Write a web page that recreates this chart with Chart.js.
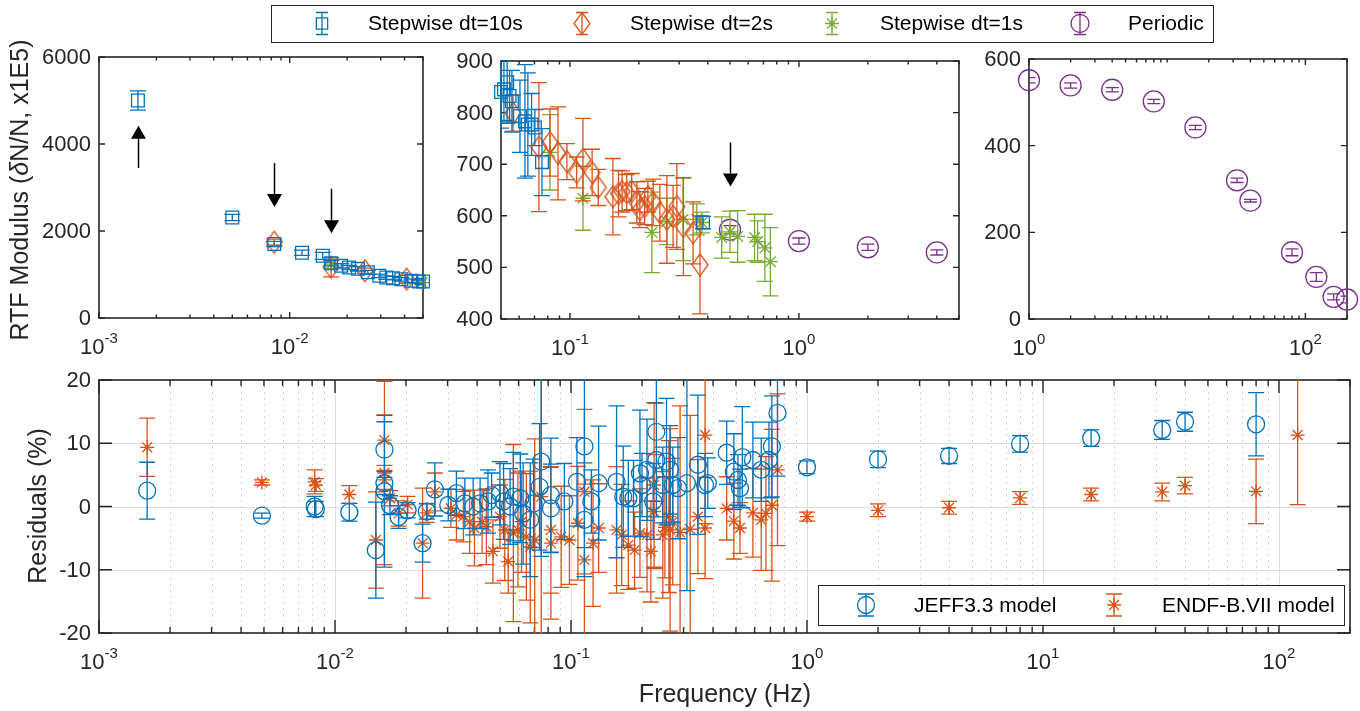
<!DOCTYPE html>
<html>
<head>
<meta charset="utf-8">
<script src="https://cdn.jsdelivr.net/npm/chart.js@4.4.0/dist/chart.umd.min.js"></script>
<style>
  html, body { margin: 0; padding: 0; background: #fff; }
  #wrap { position: relative; width: 1360px; height: 711px; overflow: hidden; }
  #wrap canvas { position: absolute; left: 0; top: 0; }
</style>
</head>
<body>
<div id="wrap">
  <canvas id="cTL" width="1360" height="711"></canvas>
  <canvas id="cMid" width="1360" height="711"></canvas>
  <canvas id="cTR" width="1360" height="711"></canvas>
  <canvas id="cBot" width="1360" height="711"></canvas>
</div>
<script>
// --- RTF modulus, stepwise dt=10s
const sw10Freq = [0.0016, 0.005, 0.0083, 0.0116, 0.0149, 0.0165, 0.0186, 0.0205, 0.0228, 0.0257, 0.0295, 0.0321, 0.0348, 0.0385, 0.0435, 0.0475, 0.050, 0.0515, 0.0532, 0.0545, 0.0558, 0.0605, 0.0636, 0.0655, 0.068, 0.0703, 0.0755, 0.381];
const sw10Val = [5000, 2310, 1700, 1500, 1430, 1260, 1200, 1160, 1130, 1050, 970, 930, 915, 890, 855, 838, 840, 845, 859, 832, 822, 793, 783, 777, 777, 771, 704, 587];
const sw10Err = [220, 70, 60, 60, 80, 60, 50, 50, 50, 45, 40, 40, 40, 40, 40, 40, 70, 60, 80, 50, 60, 70, 110, 100, 60, 35, 65, 12];

// --- stepwise dt=2s
const sw2Freq = [0.0083, 0.0165, 0.0248, 0.041, 0.0564, 0.0732, 0.0818, 0.0887, 0.097, 0.107, 0.114, 0.125, 0.133, 0.154, 0.163, 0.169, 0.177, 0.186, 0.196, 0.202, 0.212, 0.219, 0.231, 0.247, 0.265, 0.282, 0.293, 0.313, 0.345, 0.37];
const sw2Val = [1742, 1166, 1085, 893, 799, 733, 742, 721, 705, 684, 709, 684, 655, 637, 643, 647, 645, 647, 626, 612, 618, 637, 626, 606, 593, 599, 618, 579, 567, 505];
const sw2Err = [70, 220, 60, 90, 35, 125, 65, 90, 35, 30, 80, 45, 35, 74, 45, 40, 35, 35, 40, 35, 35, 30, 45, 55, 85, 60, 83, 95, 60, 95];

// --- stepwise dt=1s
const sw1Freq = [0.0165, 0.0495, 0.0818, 0.114, 0.228, 0.265, 0.312, 0.358, 0.377, 0.46, 0.50, 0.54, 0.64, 0.66, 0.71, 0.75];
const sw1Val = [1239, 815, 723, 634, 568, 589, 593, 593, 587, 558, 569, 560, 558, 550, 538, 511];
const sw1Err = [100, 40, 73, 62, 78, 45, 80, 30, 20, 40, 40, 50, 45, 40, 65, 66];

// --- periodic
const perFreq = [0.5, 1, 2, 4, 8, 16, 32, 40, 80, 120, 160, 200];
const perVal = [573, 551, 539, 529, 502, 442, 320, 273, 154, 97, 51, 45];
const perErr = [8, 6, 6, 5, 5, 5, 5, 3, 8, 10, 7, 8];

// --- residuals, JEFF3.3 model
const jeffFreq = [0.0016, 0.0049, 0.0082, 0.0083, 0.0115, 0.0149, 0.0162, 0.0162, 0.0162, 0.0171, 0.0186, 0.0203, 0.0235, 0.0245, 0.0265, 0.0302, 0.0327, 0.0355, 0.0385, 0.0412, 0.0445, 0.0461, 0.050, 0.0518, 0.0552, 0.057, 0.061, 0.0627, 0.0672, 0.0694, 0.0736, 0.0748, 0.0822, 0.0822, 0.0937, 0.106, 0.114, 0.114, 0.122, 0.131, 0.156, 0.1665, 0.175, 0.184, 0.196, 0.2, 0.21, 0.223, 0.23, 0.23, 0.245, 0.254, 0.263, 0.27, 0.284, 0.31, 0.345, 0.37, 0.38, 0.457, 0.49, 0.51, 0.52, 0.532, 0.59, 0.64, 0.69, 0.71, 0.75, 1, 2, 4, 8, 16, 32, 40, 80];
const jeffRes = [2.5, -1.45, 0.0, -0.4, -0.9, -6.9, 9.0, 3.7, 2.4, 0.2, -1.65, -0.6, -5.8, -0.8, 2.7, 0.24, 2.1, 0.5, 0.0, 0.5, 0.8, 1.8, 2.1, 0.8, 0.0, 1.55, 1.3, -1.1, -2.1, 0.5, 3.1, 7.1, 1.8, -0.3, 0.8, 3.9, 9.5, -2.1, 0.8, 3.7, 3.9, 1.55, 1.3, 1.3, 5.25, 3.4, 5.8, 0.8, 11.8, 7.35, 3.4, 7.1, 5.8, 3.4, 2.9, 3.7, 6.6, 3.4, 3.7, 8.5, 5.5, 4.2, 2.9, 7.8, 7.35, 5.8, 7.35, 9.5, 14.8, 6.2, 7.45, 8.0, 9.9, 10.8, 12.1, 13.4, 13.0];
const jeffErr = [4.5, 0.4, 1.6, 1.2, 1.4, 7.6, 4.4, 1.8, 12, 1.5, 1.8, 1.2, 3, 1.2, 4.2, 2.5, 3.5, 4, 4.5, 4, 5, 3.5, 5, 6, 6, 7, 7, 8, 9, 7, 10, 15, 9, 7, 6, 7, 16, 9, 5, 9, 12, 8, 6, 6, 10, 5, 8, 6, 11, 9, 6, 10, 7, 6, 8, 17, 11, 5, 4, 5, 6, 4, 3, 8, 6, 5, 6, 8, 10, 1, 1.3, 1.2, 1.3, 1.3, 1.5, 1.5, 5];

// --- residuals, ENDF-B.VII model
const endfFreq = [0.0016, 0.0049, 0.0082, 0.0083, 0.0115, 0.0149, 0.0162, 0.0162, 0.0162, 0.0171, 0.0186, 0.0203, 0.0235, 0.0245, 0.0265, 0.031, 0.0327, 0.035, 0.0372, 0.039, 0.042, 0.0438, 0.0467, 0.05, 0.0524, 0.0542, 0.057, 0.0596, 0.0617, 0.0647, 0.0672, 0.0702, 0.0748, 0.0822, 0.0822, 0.0909, 0.0985, 0.107, 0.114, 0.114, 0.124, 0.131, 0.156, 0.164, 0.175, 0.186, 0.196, 0.21, 0.218, 0.225, 0.225, 0.245, 0.25, 0.26, 0.263, 0.27, 0.29, 0.32, 0.345, 0.37, 0.37, 0.457, 0.49, 0.52, 0.59, 0.64, 0.67, 0.71, 0.75, 1, 2, 4, 8, 16, 32, 40, 80, 120];
const endfRes = [9.36, 3.8, 3.9, 3.4, 1.9, -5.3, 10.5, 5.3, 4.2, 1.3, -1.1, 0.3, -5.8, -1.0, 2.3, -0.3, -1.3, -1.6, -2.4, -3.4, -2.4, -3.2, -7.1, -1.6, -3.7, -8.7, -4.2, -3.7, -2.4, -4.8, -6.4, -5.3, 1.55, -3.7, -5.8, -4.8, -5.3, -2.65, 2.35, -8.45, -5.8, -3.4, -3.7, -4.5, -6.1, -6.9, -4.2, -4.5, -7.1, 3.4, -0.8, -4.5, -3.3, -1.6, -3.7, -2.4, -4.1, -3.6, -1.6, 11.3, -3.4, -0.3, -2.3, -3.4, -1.0, -2.1, -1.1, 0.2, 5.8, -1.6, -0.6, -0.2, 1.35, 1.9, 2.3, 3.3, 2.4, 11.3];
const endfErr = [4.6, 0.4, 1.9, 1.0, 1.4, 7.6, 4.0, 14.5, 1.5, 1.2, 2.0, 1.3, 8.7, 1.5, 3.0, 3, 4, 4, 5, 6, 5, 6, 5, 5, 8, 5, 14, 9, 8, 10, 12, 16, 22, 10, 12, 8, 7, 9, 13, 12, 10, 7, 10, 8, 7, 6, 7, 9, 8, 13, 9, 10, 8, 12, 16, 10, 20, 18, 9, 14, 8, 5, 6, 4, 7, 8, 9, 12, 12, 0.7, 1, 1, 1, 1, 1.4, 1.3, 5.1, 11];

// --- tick labels
const yTicksTL = [0, 2000, 4000, 6000];
const yTicksMid = [400, 500, 600, 700, 800, 900];
const yTicksTR = [0, 200, 400, 600];
const yTicksBot = [-20, -10, 0, 10, 20];
const xExpTL = [-3, -2];
const xExpMid = [-1, 0];
const xExpTR = [0, 2];
const xExpBot = [-3, -2, -1, 0, 1, 2];

// arrows: [freq, from, to]
const arrowsTL = [[0.0016, 3450, 4420], [0.0083, 3560, 2550], [0.0165, 2970, 1950]];
const arrowsMid = [[0.5, 742, 657]];

const W = 1360, H = 711;
const BLUE = '#0072BD', ORANGE = '#D95319', GREEN = '#77AC30', PURPLE = '#7E2F8E';
const AXC = '#262626';
const FONT = '"Liberation Sans", Arial, Helvetica, sans-serif';

function pts(fx, fy, fe, xmin, xmax) {
  const out = [];
  for (let i = 0; i < fx.length; i++) {
    if (fx[i] >= xmin * 0.999 && fx[i] <= xmax * 1.001) out.push({ x: fx[i], y: fy[i], e: fe[i] });
  }
  return out;
}

function diamondImage(color) {
  const c = document.createElement('canvas');
  c.width = 20; c.height = 26;
  const g = c.getContext('2d');
  g.strokeStyle = color; g.lineWidth = 1.3;
  g.beginPath();
  g.moveTo(10, 2); g.lineTo(18, 13); g.lineTo(10, 24); g.lineTo(2, 13); g.closePath();
  g.stroke();
  return c;
}
const diamond = diamondImage(ORANGE);

function series(data, color, style, radius, cap) {
  return {
    data, borderColor: color, backgroundColor: 'rgba(0,0,0,0)',
    pointStyle: style, pointRadius: radius, pointBorderWidth: 1.3,
    pointBorderColor: color, pointBackgroundColor: 'rgba(0,0,0,0)',
    clip: false, capW: cap
  };
}

function logTicks(min, max) {
  const out = [];
  for (let k = Math.floor(Math.log10(min) + 1e-9); k <= Math.ceil(Math.log10(max) - 1e-9); k++) {
    for (let m = 1; m <= 9; m++) {
      const v = m * Math.pow(10, k);
      if (v >= min * 0.999 && v <= max * 1.001) out.push({ v, m, k });
    }
  }
  return out;
}

function seg(ctx, x0, y0, x1, y1) { ctx.moveTo(x0, y0); ctx.lineTo(x1, y1); }

function drawMarker(ctx, style, x, y, r, color) {
  ctx.save();
  ctx.strokeStyle = color; ctx.lineWidth = 1.3;
  ctx.beginPath();
  if (style === 'rect') {
    const s = r * Math.SQRT1_2;
    ctx.rect(x - s, y - s, 2 * s, 2 * s);
  } else if (style === 'diamond') {
    ctx.moveTo(x, y - 11); ctx.lineTo(x + 8, y); ctx.lineTo(x, y + 11); ctx.lineTo(x - 8, y); ctx.closePath();
  } else if (style === 'star') {
    for (let i = 0; i < 4; i++) {
      const a = i * Math.PI / 4;
      seg(ctx, x - r * Math.cos(a), y - r * Math.sin(a), x + r * Math.cos(a), y + r * Math.sin(a));
    }
  } else {
    ctx.arc(x, y, r, 0, Math.PI * 2);
  }
  ctx.stroke();
  ctx.restore();
}

function drawPow(ctx, x, base, exp) {
  ctx.font = '22px ' + FONT;
  const wb = ctx.measureText('10').width;
  ctx.font = '15px ' + FONT;
  const we = ctx.measureText(String(exp)).width;
  const x0 = x - (wb + we) / 2;
  ctx.textAlign = 'left'; ctx.textBaseline = 'alphabetic';
  ctx.font = '22px ' + FONT;
  ctx.fillText('10', x0, base);
  ctx.font = '15px ' + FONT;
  ctx.fillText(String(exp), x0 + wb, base - 11);
}

// error bars, drawn under each series' markers
const errorBarPlugin = {
  id: 'errbars',
  beforeDatasetDraw(chart, args) {
    const ds = chart.data.datasets[args.index];
    const ys = chart.scales.y, a = chart.chartArea, ctx = chart.ctx;
    const cap = ds.capW || 8;
    ctx.save();
    ctx.beginPath();
    ctx.rect(a.left - 1, a.top - 1, a.right - a.left + 2, a.bottom - a.top + 2);
    ctx.clip();
    ctx.strokeStyle = ds.borderColor;
    ctx.lineWidth = 1.3;
    ctx.beginPath();
    args.meta.data.forEach((pt, i) => {
      const d = ds.data[i];
      const yt = ys.getPixelForValue(d.y + d.e), yb = ys.getPixelForValue(d.y - d.e);
      seg(ctx, pt.x, yb, pt.x, yt);
      seg(ctx, pt.x - cap, yt, pt.x + cap, yt);
      seg(ctx, pt.x - cap, yb, pt.x + cap, yb);
    });
    ctx.stroke();
    ctx.restore();
  }
};

function axesPlugin(p) {
  return {
    id: 'axes_' + p.name,
    beforeDatasetsDraw(chart) {
      const ctx = chart.ctx, xs = chart.scales.x, ys = chart.scales.y, a = chart.chartArea;
      const ticks = logTicks(p.xMin, p.xMax);
      ctx.save();
      if (p.grid) {
        ctx.lineWidth = 1;
        ctx.strokeStyle = '#c8c8c8';
        ctx.setLineDash([1.5, 4.5]);
        ctx.beginPath();
        ticks.forEach(t => {
          if (t.m === 1) return;
          const x = Math.round(xs.getPixelForValue(t.v)) + 0.5;
          if (x > a.left + 1 && x < a.right - 1) seg(ctx, x, a.top, x, a.bottom);
        });
        ctx.stroke();
        ctx.setLineDash([]);
        ctx.strokeStyle = '#dedede';
        ctx.beginPath();
        ticks.forEach(t => {
          if (t.m !== 1) return;
          const x = Math.round(xs.getPixelForValue(t.v)) + 0.5;
          if (x > a.left + 1 && x < a.right - 1) seg(ctx, x, a.top, x, a.bottom);
        });
        p.yTicks.forEach(v => {
          const y = Math.round(ys.getPixelForValue(v)) + 0.5;
          if (y > a.top + 1 && y < a.bottom - 1) seg(ctx, a.left, y, a.right, y);
        });
        ctx.stroke();
      }
      ctx.strokeStyle = AXC;
      ctx.lineWidth = 1.6;
      ctx.strokeRect(a.left, a.top, a.right - a.left, a.bottom - a.top);
      ctx.lineWidth = 1.4;
      ctx.beginPath();
      ticks.forEach(t => {
        const major = t.m === 1 && p.xExp.includes(t.k);
        const len = major ? p.tick : p.minor;
        const x = xs.getPixelForValue(t.v);
        seg(ctx, x, a.bottom, x, a.bottom - len);
        seg(ctx, x, a.top, x, a.top + len);
      });
      p.yTicks.forEach(v => {
        const y = ys.getPixelForValue(v);
        seg(ctx, a.left, y, a.left + p.tick, y);
        seg(ctx, a.right, y, a.right - p.tick, y);
      });
      ctx.stroke();
      // tick labels
      ctx.fillStyle = AXC;
      ctx.font = '22px ' + FONT;
      ctx.textAlign = 'right'; ctx.textBaseline = 'middle';
      p.yTicks.forEach(v => {
        ctx.fillText(String(v), a.left - 8, ys.getPixelForValue(v) + 1);
      });
      p.xExp.forEach(k => drawPow(ctx, xs.getPixelForValue(Math.pow(10, k)), a.bottom + 36, k));
      ctx.restore();
    },
    afterDatasetsDraw(chart) {
      if (!p.arrows) return;
      const ctx = chart.ctx, xs = chart.scales.x, ys = chart.scales.y;
      ctx.save();
      p.arrows.forEach(([f, v0, v1]) => {
        const x = Math.round(xs.getPixelForValue(f)) + 0.5;
        const y0 = ys.getPixelForValue(v0), y1 = ys.getPixelForValue(v1);
        const dir = Math.sign(y1 - y0), hl = 13, hw = 7.5;
        ctx.strokeStyle = '#000'; ctx.lineWidth = 1.5;
        ctx.beginPath(); seg(ctx, x, y0, x, y1 - dir * hl); ctx.stroke();
        ctx.fillStyle = '#000';
        ctx.beginPath();
        ctx.moveTo(x, y1); ctx.lineTo(x - hw, y1 - dir * hl); ctx.lineTo(x + hw, y1 - dir * hl);
        ctx.closePath(); ctx.fill();
      });
      ctx.restore();
    },
    afterDraw(chart) {
      if (p.after) p.after(chart.ctx);
    }
  };
}

function legendBox(ctx, x0, y0, x1, y1, items) {
  ctx.save();
  ctx.fillStyle = '#fff';
  ctx.fillRect(x0, y0, x1 - x0, y1 - y0);
  ctx.strokeStyle = AXC; ctx.lineWidth = 1;
  ctx.strokeRect(x0 + 0.5, y0 + 0.5, x1 - x0, y1 - y0);
  const cy = (y0 + y1) / 2;
  items.forEach(it => {
    ctx.strokeStyle = it.color; ctx.lineWidth = 1.3;
    ctx.beginPath();
    seg(ctx, it.ix, cy - 11, it.ix, cy + 11);
    seg(ctx, it.ix - it.cap, cy - 11, it.ix + it.cap, cy - 11);
    seg(ctx, it.ix - it.cap, cy + 11, it.ix + it.cap, cy + 11);
    ctx.stroke();
    drawMarker(ctx, it.style, it.ix, cy, it.r, it.color);
    ctx.fillStyle = '#000';
    ctx.font = '21px ' + FONT;
    ctx.textAlign = 'left'; ctx.textBaseline = 'middle';
    ctx.fillText(it.label, it.tx, cy + 1);
  });
  ctx.restore();
}

function makePanel(id, p, datasets) {
  return new Chart(document.getElementById(id), {
    type: 'scatter',
    data: { datasets },
    options: {
      responsive: false,
      animation: false,
      devicePixelRatio: 1,
      events: [],
      layout: { padding: { left: p.left, top: p.top, right: W - p.right, bottom: H - p.bottom } },
      plugins: { legend: { display: false }, tooltip: { enabled: false }, title: { display: false } },
      scales: {
        x: { type: 'logarithmic', min: p.xMin, max: p.xMax, display: false },
        y: { type: 'linear', min: p.yMin, max: p.yMax, display: false }
      }
    },
    plugins: [axesPlugin(p), errorBarPlugin]
  });
}

function stepwiseSets(xmin, xmax, withPeriodic) {
  const sets = [
    series(pts(sw10Freq, sw10Val, sw10Err, xmin, xmax), BLUE, 'rect', 9, 8),
    series(pts(sw2Freq, sw2Val, sw2Err, xmin, xmax), ORANGE, diamond, 9, 8),
    series(pts(sw1Freq, sw1Val, sw1Err, xmin, xmax), GREEN, 'star', 7.5, 8)
  ];
  if (withPeriodic) sets.push(series(pts(perFreq, perVal, perErr, xmin, xmax), PURPLE, 'circle', 10.5, 6.5));
  return sets;
}

const pTL = {
  name: 'tl', left: 99, top: 57, right: 423, bottom: 318,
  xMin: 0.001, xMax: 0.05, yMin: 0, yMax: 6000, yTicks: yTicksTL, xExp: xExpTL,
  tick: 6, minor: 3.5, grid: false, arrows: arrowsTL,
  after(ctx) {
    // y axis title with italic delta
    ctx.save();
    const parts = [['RTF Modulus (', false], ['\u03B4', true], ['N/N, x1E5)', false]];
    let total = 0;
    parts.forEach(pr => { ctx.font = (pr[1] ? 'italic ' : '') + '25px ' + FONT; pr.push(ctx.measureText(pr[0]).width); total += pr[2]; });
    ctx.translate(21, 190);
    ctx.rotate(-Math.PI / 2);
    ctx.fillStyle = AXC; ctx.textAlign = 'left'; ctx.textBaseline = 'middle';
    let x = -total / 2;
    parts.forEach(pr => { ctx.font = (pr[1] ? 'italic ' : '') + '25px ' + FONT; ctx.fillText(pr[0], x, 0); x += pr[2]; });
    ctx.restore();
    legendBox(ctx, 271, 5, 1213, 42, [
      { style: 'rect', color: BLUE, r: 8, cap: 6, ix: 322, tx: 368, label: 'Stepwise dt=10s' },
      { style: 'diamond', color: ORANGE, r: 8, cap: 6, ix: 582, tx: 630, label: 'Stepwise dt=2s' },
      { style: 'star', color: GREEN, r: 7, cap: 6, ix: 832, tx: 880, label: 'Stepwise dt=1s' },
      { style: 'circle', color: PURPLE, r: 9, cap: 6, ix: 1080, tx: 1128, label: 'Periodic' }
    ]);
  }
};
const pMid = {
  name: 'mid', left: 501, top: 61, right: 959, bottom: 319,
  xMin: 0.05, xMax: 5, yMin: 400, yMax: 900, yTicks: yTicksMid, xExp: xExpMid,
  tick: 6, minor: 3.5, grid: false, arrows: arrowsMid
};
const pTR = {
  name: 'tr', left: 1029, top: 59, right: 1347, bottom: 319,
  xMin: 1, xMax: 200, yMin: 0, yMax: 600, yTicks: yTicksTR, xExp: xExpTR,
  tick: 6, minor: 3.5, grid: false
};
const pBot = {
  name: 'bot', left: 99, top: 380, right: 1350, bottom: 633,
  xMin: 0.001, xMax: 200, yMin: -20, yMax: 20, yTicks: yTicksBot, xExp: xExpBot,
  tick: 13, minor: 6, grid: true,
  after(ctx) {
    ctx.save();
    ctx.fillStyle = AXC;
    ctx.font = '25px ' + FONT;
    ctx.textAlign = 'center'; ctx.textBaseline = 'alphabetic';
    ctx.fillText('Frequency (Hz)', 725, 702);
    ctx.translate(39, 506);
    ctx.rotate(-Math.PI / 2);
    ctx.textBaseline = 'middle';
    ctx.fillText('Residuals (%)', 0, 0);
    ctx.restore();
    legendBox(ctx, 818, 585, 1344, 625, [
      { style: 'circle', color: BLUE, r: 8.5, cap: 8, ix: 866, tx: 914, label: 'JEFF3.3 model' },
      { style: 'star', color: ORANGE, r: 7, cap: 8, ix: 1114, tx: 1162, label: 'ENDF-B.VII model' }
    ]);
  }
};

makePanel('cTL', pTL, stepwiseSets(pTL.xMin, pTL.xMax, false));
makePanel('cMid', pMid, stepwiseSets(pMid.xMin, pMid.xMax, true));
makePanel('cTR', pTR, [series(pts(perFreq, perVal, perErr, pTR.xMin, pTR.xMax), PURPLE, 'circle', 10.5, 6.5)]);
makePanel('cBot', pBot, [
  series(pts(jeffFreq, jeffRes, jeffErr, pBot.xMin, pBot.xMax), BLUE, 'circle', 8.5, 8),
  series(pts(endfFreq, endfRes, endfErr, pBot.xMin, pBot.xMax), ORANGE, 'star', 7, 8)
]);
</script>
</body>
</html>
